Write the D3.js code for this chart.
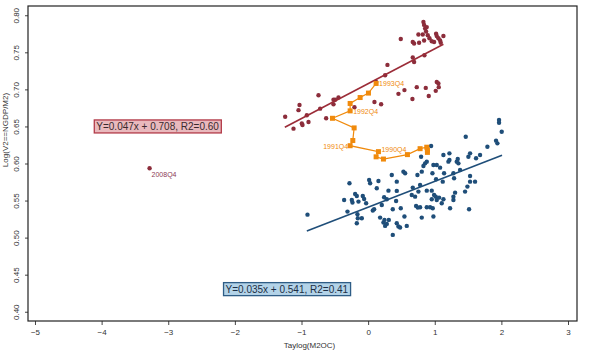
<!DOCTYPE html>
<html>
<head>
<meta charset="utf-8">
<script src="https://cdn.jsdelivr.net/npm/d3@7"></script>
<style>
body { margin: 0; background: #fff; }
text { font-family: "Liberation Sans", Arial, sans-serif; }
</style>
</head>
<body>
<svg id="chart" width="600" height="352"></svg>
<script>
// red series (upper cluster) x, y
var redX = [-1.245,-1.12,-1.045,-1.03,-0.995,-0.985,-0.92,-0.895,-0.745,-0.72,-0.63,-0.52,-0.495,-0.445,-0.52,-0.205,0.095,0.195,0.12,0.255,0.29,0.455,0.545,0.665,0.73,0.865,0.91,1.015,1.03,1.055,1.06,0.49,0.67,0.69,0.755,0.765,0.82,0.84,0.67,0.69,0.845,0.83,0.84,0.855,0.87,0.88,0.895,0.92,0.955,0.99,1.03,1.055,1.08,1.09,1.13,1.02,-3.28];
var redY = [0.663,0.647,0.672,0.679,0.654,0.652,0.665,0.656,0.692,0.674,0.661,0.686,0.686,0.689,0.680,0.676,0.683,0.680,0.710,0.719,0.733,0.694,0.699,0.687,0.703,0.702,0.691,0.698,0.710,0.708,0.703,0.768,0.764,0.762,0.774,0.763,0.774,0.766,0.743,0.737,0.746,0.791,0.787,0.782,0.778,0.784,0.773,0.769,0.765,0.764,0.772,0.769,0.766,0.763,0.772,0.775,0.5935];

// blue series (lower cluster)
var blueX = [-0.91,-0.28,-0.36,-0.31,-0.245,-0.235,-0.195,-0.17,-0.145,-0.16,-0.155,-0.095,-0.17,-0.08,-0.06,-0.03,0.015,0.03,0.07,0.09,0.13,0.155,0.18,0.23,0.245,0.255,0.28,0.31,0.205,0.24,0.28,0.305,0.355,0.37,0.42,0.43,0.43,0.43,0.455,0.48,0.49,0.53,0.555,0.545,0.58,0.37,0.655,0.67,0.705,0.72,0.745,0.78,0.755,0.78,0.74,0.805,0.795,0.83,0.855,0.88,0.805,0.88,0.88,0.93,0.955,0.955,0.97,0.98,0.99,1.015,0.98,1.03,0.965,1.02,1.03,1.065,1.08,1.105,1.13,1.12,1.13,1.14,1.22,1.205,1.22,1.23,1.28,1.28,1.29,1.28,1.305,1.33,1.345,1.355,1.38,1.455,1.465,1.49,1.505,1.53,1.515,1.53,1.53,1.605,1.62,1.68,1.79,1.92,1.94,1.965,1.965,2.005,0.945];
var blueY = [0.531,0.5733,0.5508,0.5351,0.5508,0.5473,0.5589,0.5562,0.5486,0.5315,0.5262,0.5262,0.5194,0.5562,0.5522,0.5464,0.5778,0.5733,0.5365,0.5383,0.5666,0.5764,0.527,0.5203,0.5239,0.5158,0.5185,0.5239,0.5441,0.5544,0.5517,0.5634,0.5845,0.5383,0.5495,0.563,0.5755,0.5194,0.5149,0.5136,0.5396,0.589,0.5868,0.5284,0.5158,0.5037,0.5576,0.5675,0.5553,0.5428,0.5405,0.541,0.5621,0.571,0.5845,0.589,0.6092,0.5966,0.6002,0.5634,0.527,0.541,0.6025,0.541,0.5634,0.5517,0.5396,0.5284,0.5576,0.5553,0.598,0.598,0.5868,0.5787,0.5508,0.554,0.5944,0.5464,0.5517,0.5755,0.6115,0.5868,0.6137,0.6025,0.6047,0.5396,0.5553,0.5508,0.58,0.5868,0.5607,0.6025,0.6061,0.6002,0.5913,0.5621,0.6361,0.5688,0.6092,0.6137,0.5383,0.5832,0.5755,0.5755,0.607,0.6115,0.6227,0.6308,0.6272,0.655,0.6586,0.6429,0.6236];

// orange path (1989-1993), labelled at each Q4
var pathX = [0.89,0.89,0.88,0.78,0.59,0.23,0.12,0.155,-0.27,-0.23,-0.21,-0.535,-0.27,-0.27,-0.12,0.005,0.12];
var pathY = [0.615,0.618,0.622,0.620,0.612,0.606,0.609,0.616,0.624,0.631,0.648,0.661,0.671,0.681,0.689,0.695,0.708];
var pathLabels = ['','','','','','','','1990Q4','1991Q4','','','','1992Q4','','','','1993Q4'];

// fitted lines, end points
var redFit = [[-1.25, 0.649], [1.13, 0.761]];
var blueFit = [[-0.92, 0.509], [2.01, 0.611]];

var xTicks = [-5, -4, -3, -2, -1, 0, 1, 2, 3];
var yTicks = [0.40, 0.45, 0.50, 0.55, 0.60, 0.65, 0.70, 0.75, 0.80];

var redText = 'Y=0.047x + 0.708, R2=0.60';
var blueText = 'Y=0.035x + 0.541, R2=0.41';

var svg = d3.select('#chart');
var margin = {top: 6, right: 23, bottom: 31, left: 28};
var width = 600 - margin.left - margin.right;
var height = 352 - margin.top - margin.bottom;

var x = d3.scaleLinear().domain([-5.105, 3.135]).range([margin.left, margin.left + width]);
var y = d3.scaleLinear().domain([0.3875, 0.8125]).range([margin.top + height, margin.top]);

var redCol = '#8c2d3b';
var blueCol = '#1f4e79';
var orangeCol = '#f08a0c';

// axes
var xAxis = svg.append('g')
	.attr('transform', 'translate(0,' + (margin.top + height) + ')')
	.call(d3.axisBottom(x).tickValues(xTicks).tickSize(4).tickFormat(function(d) { return d < 0 ? '\u2212' + Math.abs(d) : d; }));
xAxis.select('.domain').remove();
xAxis.selectAll('text').attr('font-size', 8).attr('fill', '#333').attr('dy', '0.9em');
xAxis.selectAll('line').attr('stroke', '#444');

var yAxis = svg.append('g')
	.attr('transform', 'translate(' + margin.left + ',0)')
	.call(d3.axisLeft(y).tickValues(yTicks).tickSize(3).tickFormat(d3.format('.2f')));
yAxis.select('.domain').remove();
yAxis.selectAll('line').attr('stroke', '#444');
yAxis.selectAll('text')
	.attr('font-size', 8).attr('fill', '#333')
	.attr('x', 0).attr('dy', 0)
	.attr('text-anchor', 'middle')
	.attr('transform', 'translate(-9,0) rotate(-90)');

svg.append('rect')
	.attr('x', margin.left).attr('y', margin.top)
	.attr('width', width).attr('height', height)
	.attr('fill', 'none').attr('stroke', '#222').attr('stroke-width', 1.2);

svg.append('text')
	.attr('x', margin.left + width / 2 + 7).attr('y', 348)
	.attr('text-anchor', 'middle').attr('font-size', 8).attr('fill', '#333')
	.text('Taylog(M2OC)');

svg.append('text')
	.attr('transform', 'translate(8,130) rotate(-90)')
	.attr('text-anchor', 'middle').attr('font-size', 8).attr('fill', '#333')
	.text('Log(V2==NGDP/M2)');

var line = d3.line().x(function(d) { return x(d[0]); }).y(function(d) { return y(d[1]); });

// points
svg.append('g').selectAll('circle')
	.data(d3.range(redX.length))
	.enter().append('circle')
	.attr('cx', function(i) { return x(redX[i]); })
	.attr('cy', function(i) { return y(redY[i]); })
	.attr('r', 2.2)
	.attr('fill', redCol);

svg.append('g').selectAll('circle')
	.data(d3.range(blueX.length))
	.enter().append('circle')
	.attr('cx', function(i) { return x(blueX[i]); })
	.attr('cy', function(i) { return y(blueY[i]); })
	.attr('r', 2.2)
	.attr('fill', blueCol);

svg.append('text')
	.attr('x', x(redX[redX.length - 1]) + 2).attr('y', y(redY[redY.length - 1]) + 9)
	.attr('font-size', 7).attr('fill', '#8c3a55')
	.text('2008Q4');

// fit lines
svg.append('path').datum(redFit).attr('d', line)
	.attr('stroke', '#9b2c38').attr('stroke-width', 1.6).attr('fill', 'none');
svg.append('path').datum(blueFit).attr('d', line)
	.attr('stroke', blueCol).attr('stroke-width', 1.6).attr('fill', 'none');

// orange path
var pathPts = d3.range(pathX.length).map(function(i) { return [pathX[i], pathY[i]]; });
svg.append('path').datum(pathPts).attr('d', line)
	.attr('stroke', orangeCol).attr('stroke-width', 1.2).attr('fill', 'none');
svg.append('g').selectAll('rect')
	.data(pathPts)
	.enter().append('rect')
	.attr('x', function(d) { return x(d[0]) - 2.5; })
	.attr('y', function(d) { return y(d[1]) - 2.5; })
	.attr('width', 5).attr('height', 5)
	.attr('fill', orangeCol);
svg.append('g').selectAll('text')
	.data(d3.range(pathX.length).filter(function(i) { return pathLabels[i] !== ''; }))
	.enter().append('text')
	.attr('x', function(i) { return pathLabels[i] === '1991Q4' ? x(pathX[i]) - 2 : x(pathX[i]) + 3; })
	.attr('y', function(i) { return y(pathY[i]) + (pathLabels[i] === '1990Q4' ? 0 : 3); })
	.attr('text-anchor', function(i) { return pathLabels[i] === '1991Q4' ? 'end' : 'start'; })
	.attr('font-size', 7).attr('fill', orangeCol)
	.text(function(i) { return pathLabels[i]; });

// equation boxes
function eqBox(txt, cx, cy, fill, stroke, color) {
	var g = svg.append('g');
	var t = g.append('text')
		.attr('x', x(cx)).attr('y', y(cy) + 3.6)
		.attr('text-anchor', 'middle').attr('font-size', 10).attr('fill', color)
		.text(txt);
	var bb = t.node().getBBox();
	g.insert('rect', 'text')
		.attr('x', bb.x - 2).attr('y', y(cy) - 6.5)
		.attr('width', bb.width + 4).attr('height', 13)
		.attr('fill', fill).attr('stroke', stroke).attr('stroke-width', 1.3);
}
eqBox(redText, -3.16, 0.65, '#e9b9bd', '#b23a48', '#3a2a2e');
eqBox(blueText, -1.22, 0.4305, '#b3d3e8', '#2f5d86', '#1d2f45');
</script>
</body>
</html>
